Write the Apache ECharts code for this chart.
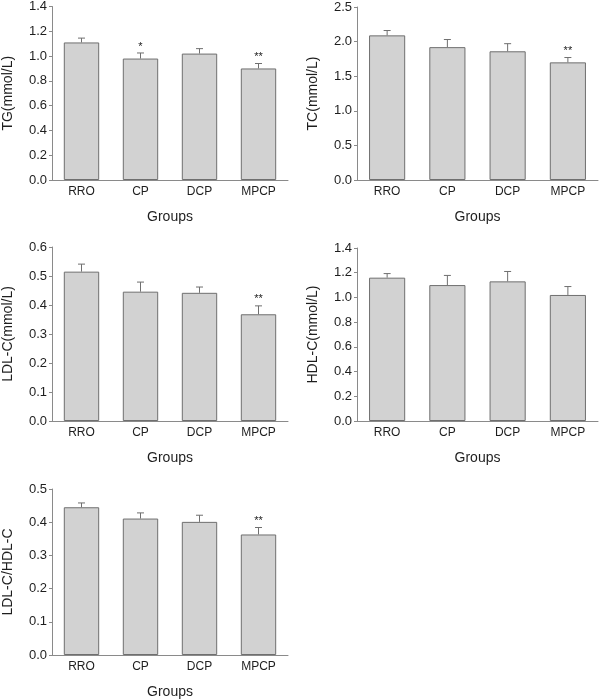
<!DOCTYPE html>
<html>
<head>
<meta charset="utf-8">
<style>
  html, body { margin: 0; padding: 0; background: #fff; }
  #chart { width: 600px; height: 700px; }
</style>
<script src="https://cdn.jsdelivr.net/npm/echarts@6/dist/echarts.min.js"></script>
</head>
<body>
<div id="chart"></div>
<script>
const categories = ['RRO', 'CP', 'DCP', 'MPCP'];

const tgMean = [1.11, 0.98, 1.02, 0.90];
const tgErr = [0.035, 0.045, 0.04, 0.04];
const tgSig = ['', '*', '', '**'];

const tcMean = [2.09, 1.92, 1.86, 1.70];
const tcErr = [0.07, 0.11, 0.11, 0.07];
const tcSig = ['', '', '', '**'];

const ldlMean = [0.515, 0.446, 0.442, 0.368];
const ldlErr = [0.026, 0.033, 0.02, 0.029];
const ldlSig = ['', '', '', '**'];

const hdlMean = [1.16, 1.10, 1.13, 1.02];
const hdlErr = [0.033, 0.078, 0.08, 0.068];
const hdlSig = ['', '', '', ''];

const ratioMean = [0.445, 0.411, 0.401, 0.363];
const ratioErr = [0.013, 0.017, 0.02, 0.021];
const ratioSig = ['', '', '', '**'];

const yNames = ['TG(mmol/L)', 'TC(mmol/L)', 'LDL-C(mmol/L)', 'HDL-C(mmol/L)', 'LDL-C/HDL-C'];
const yMax = [1.4, 2.5, 0.6, 1.4, 0.5];
const yInterval = [0.2, 0.5, 0.1, 0.2, 0.1];
const xName = 'Groups';

const panels = [
  { mean: tgMean, err: tgErr, sig: tgSig },
  { mean: tcMean, err: tcErr, sig: tcSig },
  { mean: ldlMean, err: ldlErr, sig: ldlSig },
  { mean: hdlMean, err: hdlErr, sig: hdlSig },
  { mean: ratioMean, err: ratioErr, sig: ratioSig }
];

const grids = [
  { left: 47, top: 6, width: 241, height: 174 },
  { left: 357, top: 7, width: 241, height: 173 },
  { left: 47, top: 247, width: 241, height: 174 },
  { left: 357, top: 248, width: 241, height: 173 },
  { left: 47, top: 489, width: 241, height: 173 }
];

const FONT = 'Liberation Sans, Arial, sans-serif';
const axisColor = '#8a8a8a';
const textColor = '#1e1e1e';

const xAxes = [], yAxes = [], series = [];
panels.forEach((p, i) => {
  xAxes.push({
    type: 'category', gridIndex: i, data: categories,
    name: xName, nameLocation: 'middle', nameGap: 30,
    nameTextStyle: { fontSize: 14, color: textColor, fontFamily: FONT },
    axisLine: { lineStyle: { color: axisColor, width: 1 } },
    axisTick: { alignWithLabel: true, length: 3, lineStyle: { color: axisColor } },
    axisLabel: { fontSize: 12, color: textColor, fontFamily: FONT, margin: 6 }
  });
  yAxes.push({
    type: 'value', gridIndex: i, min: 0, max: yMax[i], interval: yInterval[i],
    name: yNames[i], nameLocation: 'middle', nameGap: 37,
    nameTextStyle: { fontSize: 14, color: textColor, fontFamily: FONT },
    axisLine: { show: true, lineStyle: { color: axisColor, width: 1 } },
    axisTick: { show: true, length: 3, lineStyle: { color: axisColor } },
    splitLine: { show: false },
    axisLabel: { fontSize: 13, color: textColor, fontFamily: FONT, margin: 5,
      formatter: v => v.toFixed(1) }
  });
  series.push({
    type: 'bar', xAxisIndex: i, yAxisIndex: i, data: p.mean,
    barWidth: '60%',
    itemStyle: { color: '#d2d2d2', borderColor: '#6f6f6f', borderWidth: 1 },
    silent: true, animation: false
  });
  series.push({
    type: 'custom', xAxisIndex: i, yAxisIndex: i,
    data: p.mean.map((m, k) => [k, m, m + p.err[k], p.sig[k]]),
    animation: false, silent: true, z: 5,
    renderItem: (params, api) => {
      const base = api.coord([api.value(0), api.value(1)]);
      const top = api.coord([api.value(0), api.value(2)]);
      const sig = p.sig[params.dataIndex];
      const children = [
        { type: 'line', shape: { x1: base[0], y1: base[1], x2: top[0], y2: top[1] },
          style: { stroke: '#6f6f6f', lineWidth: 1 } },
        { type: 'line', shape: { x1: top[0] - 3.5, y1: top[1], x2: top[0] + 3.5, y2: top[1] },
          style: { stroke: '#6f6f6f', lineWidth: 1 } }
      ];
      if (sig) {
        children.push({ type: 'text', x: top[0], y: top[1] - 1,
          style: { text: sig, fontSize: 11, fontFamily: FONT, fill: '#222',
            align: 'center', verticalAlign: 'bottom' } });
      }
      return { type: 'group', children };
    }
  });
});

const chart = echarts.init(document.getElementById('chart'), null, { renderer: 'canvas' });
chart.setOption({
  animation: false,
  backgroundColor: '#fff',
  grid: grids,
  xAxis: xAxes,
  yAxis: yAxes,
  series: series
});
</script>
</body>
</html>
